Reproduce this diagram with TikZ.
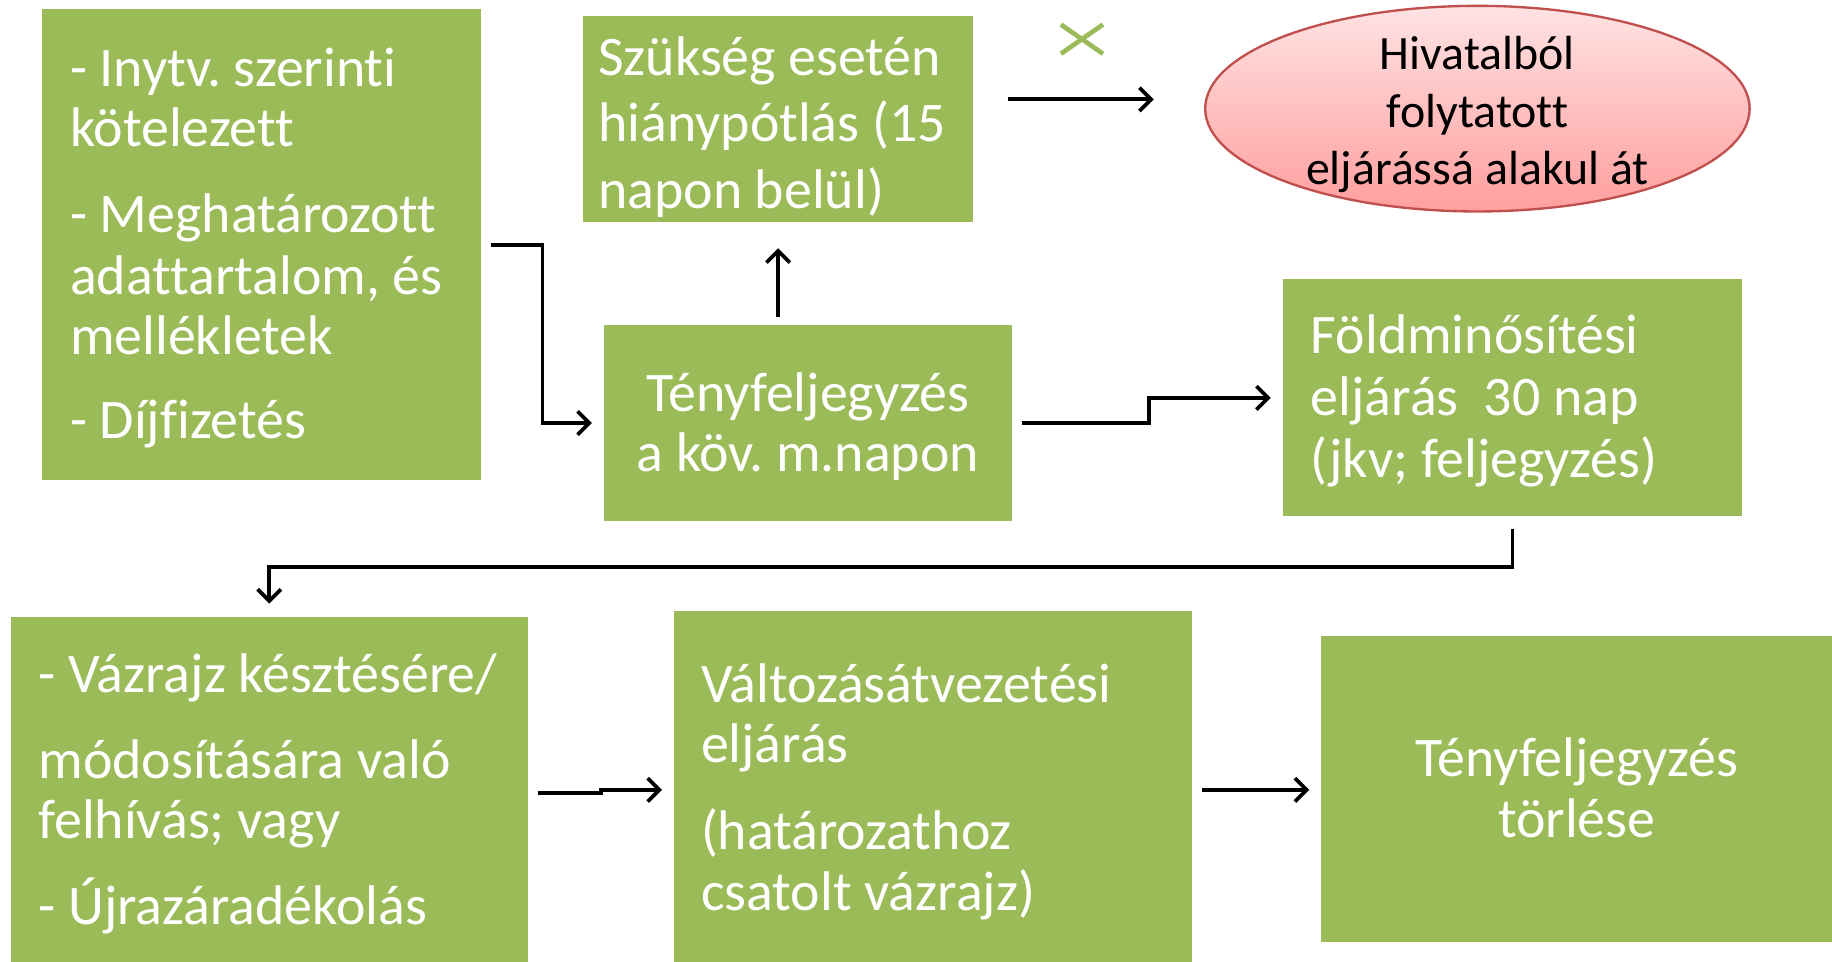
\documentclass[tikz,border=0pt]{standalone}
\usepackage{fontspec}
\setmainfont{Carlito}[Ligatures=NoCommon]
\frenchspacing
\usetikzlibrary{arrows.meta,calc,shapes.geometric}
\definecolor{boxgreen}{HTML}{9BBB59}
\definecolor{elltop}{HTML}{FFE3E3}
\definecolor{ellbot}{HTML}{FF9E9E}
\definecolor{ellborder}{HTML}{C0504D}
\begin{document}
\begin{tikzpicture}[x=0.5pt,y=-0.5pt,
  box/.style={rectangle, fill=boxgreen, draw=none, inner sep=0pt},
  txt/.style={text=white, inner sep=0pt},
  arr/.style={draw=black, line width=1.6pt, -{Straight Barb[length=5pt,width=10pt]}},
]
\useasboundingbox (0,0) rectangle (1568,823);

% boxes
\node[box, minimum width=188pt,   minimum height=201.5pt] (A) at (224,209.5) {};
\node[box, minimum width=167pt,   minimum height=88pt]    (B) at (666,102) {};
\node[box, minimum width=174.5pt, minimum height=84pt]    (C) at (691.5,362) {};
\node[box, minimum width=196.5pt, minimum height=101.5pt] (D) at (1294.5,340.5) {};
\node[box, minimum width=221.5pt, minimum height=147.5pt] (E) at (230.5,675.5) {};
\node[box, minimum width=221.5pt, minimum height=150pt]   (F) at (798.5,673) {};
\node[box, minimum width=218.5pt, minimum height=131pt]   (G) at (1349.5,675) {};
\node[ellipse, draw=ellborder, line width=1pt, top color=elltop, bottom color=ellbot,
      minimum width=233pt, minimum height=88pt, inner sep=0pt] (ell) at (1264.5,93) {};

% texts
\node[txt, anchor=west, align=left, font=\fontsize{23.9}{25.5}\selectfont] (At) at ($(A.west)+(24,3)$)
  {- Inytv. szerinti\\kötelezett\\[11.5pt]- Meghatározott\\[1pt]adattartalom, és\\mellékletek\\[10.5pt]- Díjfizetés};
\node[txt, anchor=west, align=left, font=\fontsize{23.9}{28.5}\selectfont] (Bt) at ($(B.west)+(13,6.5)$)
  {Szükség esetén\\hiánypótlás (15\\napon belül)};
\node[txt, align=center, font=\fontsize{23.9}{25.5}\selectfont] (Ct) at ($(C.center)+(0,3)$)
  {Tényfeljegyzés\\a köv. m.napon};
\node[txt, anchor=west, align=left, font=\fontsize{23.9}{26.5}\selectfont] (Dt) at ($(D.west)+(24,3)$)
  {Földminősítési\\eljárás\ \ 30 nap\\(jkv; feljegyzés)};
\node[txt, anchor=west, align=left, font=\fontsize{23.9}{26}\selectfont] (Et) at ($(E.west)+(24,4)$)
  {- Vázrajz késztésére/\\[10.5pt]módosítására való\\felhívás; vagy\\[10.5pt]- Újrazáradékolás};
\node[txt, anchor=west, align=left, font=\fontsize{23.9}{26}\selectfont] (Ft) at ($(F.west)+(23,4.5)$)
  {Változásátvezetési\\eljárás\\[11pt](határozathoz\\csatolt vázrajz)};
\node[txt, align=center, font=\fontsize{23.9}{26}\selectfont] (Gt) at ($(G.center)+(0,-1)$)
  {Tényfeljegyzés\\törlése};
\node[text=black, inner sep=0pt, align=center, font=\fontsize{20.5}{24.5}\selectfont] (ellt) at ($(ell.center)+(0,5)$)
  {Hivatalból\\folytatott\\eljárássá alakul át};

% green cross
\draw[boxgreen, line width=2pt] (908,21) -- (944,46) (908,46) -- (944,21);

% connectors
\draw[arr] ($(A.east)+(8,0)$) -- ++(44,0) |- ($(C.west)+(-10,0)$);
\draw[arr] ($(C.north -| B.south)+(0,-6)$) -- ($(B.south)+(0,22)$);
\draw[arr] ($(B.east)+(29,-17)$) -- ($(B.east -| ell.west)+(-43,-17)$);
\draw[arr] ($(C.east)+(8,0)$) -- ++(109,0) |- ($(D.west)+(-10,0)$);
\draw[arr] ($(D.south)+(0,10)$) -- ++(0,33) -| ($(E.north)+(0,-11)$);
\draw[arr] ($(E.east)+(8,3.5)$) -- ++(54,0) |- ($(F.west)+(-10,3)$);
\draw[arr] ($(F.east)+(8,3)$) -- ($(F.east -| G.west)+(-10,3)$);
\end{tikzpicture}
\end{document}
